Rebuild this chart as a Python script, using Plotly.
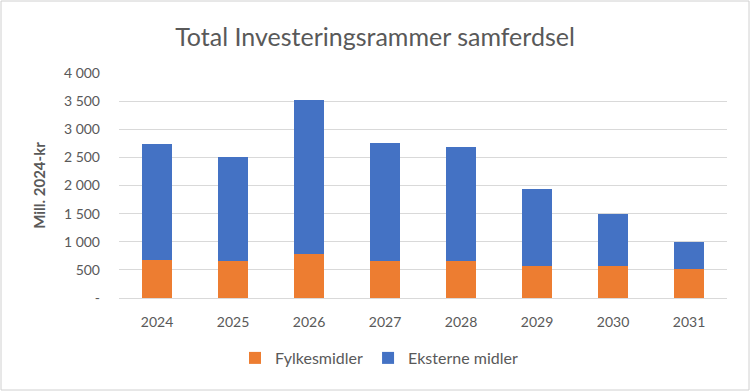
import plotly.graph_objects as go

years = ["2024", "2025", "2026", "2027", "2028", "2029", "2030", "2031"]
fylkesmidler = [680, 665, 790, 660, 650, 570, 570, 520]
eksterne_midler = [2060, 1835, 2730, 2095, 2035, 1370, 920, 480]
ytick_vals = [0, 500, 1000, 1500, 2000, 2500, 3000, 3500, 4000]
ytick_text = ["-", "500", "1 000", "1 500", "2 000", "2 500", "3 000", "3 500", "4 000"]

FONT = "Lato"
GREY = "#595959"

fig = go.Figure()
fig.add_trace(go.Bar(x=years, y=fylkesmidler, name="Fylkesmidler",
                     marker=dict(color="#ED7D31", line=dict(width=0))))
fig.add_trace(go.Bar(x=years, y=eksterne_midler, name="Eksterne midler",
                     marker=dict(color="#4472C4", line=dict(width=0))))

W, H = 750, 391
ml, mr, mt, mb = 119, 23, 73, 93
pw, ph = W - ml - mr, H - mt - mb

fig.update_layout(
    width=W, height=H,
    barmode="stack", bargap=0.6,
    paper_bgcolor="white", plot_bgcolor="white",
    margin=dict(l=ml, r=mr, t=mt, b=mb, autoexpand=False),
    font=dict(family=FONT, color=GREY, size=14),
    title=dict(text="Total Investeringsrammer samferdsel", x=0.5, xanchor="center",
               y=1 - 37 / H, yanchor="middle",
               font=dict(family=FONT, size=25, color=GREY)),
    xaxis=dict(showgrid=False, showline=False, ticks="", automargin=False,
               ticklabelstandoff=14, tickfont=dict(size=14, color=GREY)),
    yaxis=dict(range=[0, 4000], tickvals=ytick_vals, ticktext=ytick_text, automargin=False,
               showgrid=True, gridcolor="#d9d9d9", gridwidth=1,
               zeroline=True, zerolinecolor="#d9d9d9", zerolinewidth=1,
               ticks="", ticklen=0, ticklabelstandoff=18, tickfont=dict(size=14, color=GREY),
               title=dict(text="<b>Mill. 2024-kr</b>", font=dict(size=15, color=GREY), standoff=14)),
    legend=dict(orientation="h", x=(379 - ml) / pw, xanchor="center",
                y=-(358 - (H - mb)) / ph, yanchor="middle",
                font=dict(size=16, color=GREY), traceorder="normal", itemwidth=30),
    shapes=[dict(type="rect", xref="paper", yref="paper",
                 x0=-(ml - 1) / pw, x1=1 + (mr - 1) / pw,
                 y0=-(mb - 1) / ph, y1=1 + (mt - 1) / ph,
                 line=dict(color="#d0d0d0", width=1))],
)

fig.write_html("out.html", config={"displayModeBar": False},
               post_script="document.body.style.margin='0';")
